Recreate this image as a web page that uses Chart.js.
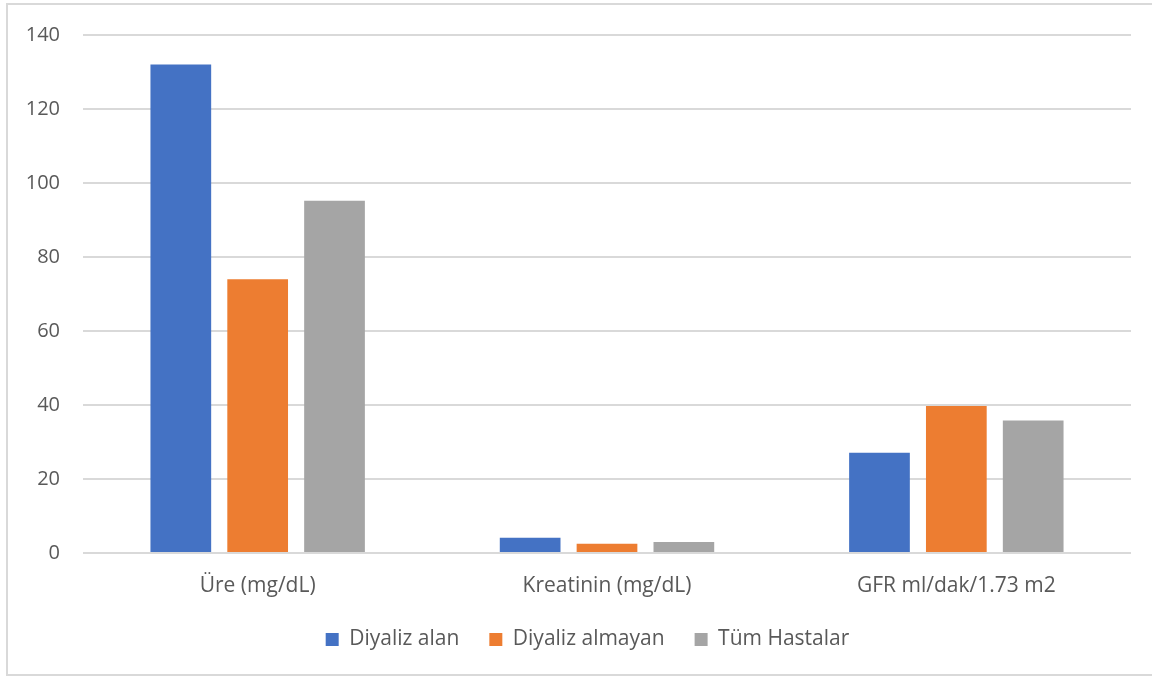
<!DOCTYPE html>
<html>
<head>
<meta charset="utf-8">
<script src="https://cdn.jsdelivr.net/npm/chart.js@4/dist/chart.umd.min.js"></script>
<style>
  html, body { margin: 0; padding: 0; background: #ffffff; }
  #wrap { width: 1152px; height: 680px; position: relative; }
</style>
</head>
<body>
<div id="wrap"><canvas id="c" width="1152" height="680"></canvas></div>
<script>
const categories = ["Üre (mg/dL)", "Kreatinin (mg/dL)", "GFR ml/dak/1.73 m2"];
const seriesNames = ["Diyaliz alan", "Diyaliz almayan", "Tüm Hastalar"];
const diyalizAlan = [132, 4.1, 27.1];
const diyalizAlmayan = [74, 2.5, 39.7];
const tumHastalar = [95.2, 3.0, 35.8];
const yTicks = [0, 20, 40, 60, 80, 100, 120, 140];
const colors = ["#4472C4", "#ED7D31", "#A5A5A5"];

const FONT = "'Open Sans', sans-serif";
const TEXT = "#595959";

const frame = {
  id: 'frame',
  beforeDraw(chart) {
    const ctx = chart.ctx;
    ctx.save();
    ctx.fillStyle = '#ffffff';
    ctx.fillRect(0, 0, chart.width, chart.height);
    ctx.strokeStyle = '#d9d9d9';
    ctx.lineWidth = 2;
    ctx.strokeRect(7, 4, 1170, 671);
    ctx.restore();
  },
  afterLayout(chart) {
    if (chart.legend) {
      chart.legend.left += 36;
    }
  }
};

new Chart(document.getElementById('c'), {
  type: 'bar',
  data: {
    labels: categories,
    datasets: [
      { label: seriesNames[0], data: diyalizAlan, backgroundColor: colors[0] },
      { label: seriesNames[1], data: diyalizAlmayan, backgroundColor: colors[1] },
      { label: seriesNames[2], data: tumHastalar, backgroundColor: colors[2] }
    ]
  },
  options: {
    responsive: false,
    animation: false,
    devicePixelRatio: 1,
    barPercentage: 0.79,
    categoryPercentage: 0.66,
    layout: { padding: { top: 33, left: 8, right: 21, bottom: 20 } },
    plugins: {
      legend: {
        position: 'bottom',
        labels: {
          boxWidth: 13, boxHeight: 13, padding: 30,
          color: TEXT, font: { family: FONT, size: 21 }
        }
      },
      tooltip: { enabled: false }
    },
    scales: {
      x: {
        grid: { display: false },
        border: { display: false },
        afterFit(scale) { scale.height = 46; },
        ticks: { color: TEXT, font: { family: FONT, size: 21 }, padding: 12 }
      },
      y: {
        min: 0, max: 140,
        afterBuildTicks(scale) { scale.ticks = yTicks.map(v => ({ value: v })); },
        afterFit(scale) { scale.width = 75; },
        grid: { color: '#d9d9d9', lineWidth: 2, drawTicks: false },
        border: { display: false },
        ticks: { color: TEXT, font: { family: FONT, size: 20 }, padding: 23 }
      }
    }
  },
  plugins: [frame]
});
</script>
</body>
</html>
